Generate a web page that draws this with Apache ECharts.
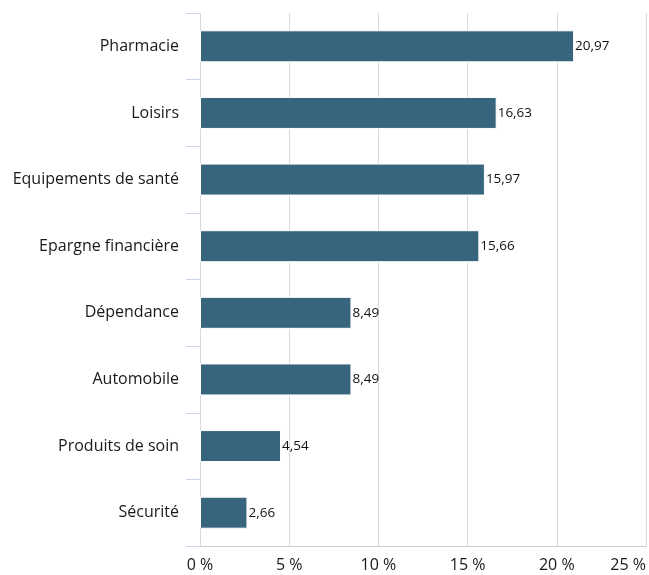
<!DOCTYPE html>
<html>
<head>
<meta charset="utf-8">
<script src="https://cdn.jsdelivr.net/npm/echarts@6/dist/echarts.min.js"></script>
<style>
  html, body { margin: 0; padding: 0; background: #fff; }
  #chart { width: 649px; height: 575px; }
</style>
</head>
<body>
<div id="chart"></div>
<script>
// catégories, de haut en bas
const categories = ['Pharmacie', 'Loisirs', 'Equipements de santé', 'Epargne financière',
  'Dépendance', 'Automobile', 'Produits de soin', 'Sécurité']
const values = [20.97, 16.63, 15.97, 15.66, 8.49, 8.49, 4.54, 2.66]
const xTicks = [0, 5, 10, 15, 20, 25]

const chart = echarts.init(document.getElementById('chart'))
const font = '"Open Sans", "Noto Sans", sans-serif'

const option = {
  animation: false,
  grid: { left: 200, right: 1, top: 13, bottom: 29, containLabel: false },
  xAxis: {
    type: 'value',
    min: xTicks[0],
    max: xTicks[xTicks.length - 1],
    interval: 5,
    axisLine: { show: true, lineStyle: { color: '#cccccc', width: 1 } },
    axisTick: { show: false },
    splitLine: { show: true, lineStyle: { color: '#d9d9d9', width: 1 } },
    axisLabel: {
      margin: 11,
      fontSize: 16,
      fontFamily: font,
      color: '#1a1a1a',
      alignMaxLabel: 'right',
      formatter: v => v + ' %'
    }
  },
  yAxis: {
    type: 'category',
    data: categories,
    inverse: true,
    axisLine: { show: false },
    axisTick: { show: true, length: 14, lineStyle: { color: '#ccd6eb', width: 1 } },
    axisLabel: { margin: 21, fontSize: 16, fontFamily: font, color: '#1a1a1a' }
  },
  series: [{
    type: 'bar',
    data: values,
    barWidth: 32,
    itemStyle: { color: '#37657d', borderColor: '#ffffff', borderWidth: 1 },
    label: {
      show: true,
      position: 'right',
      distance: 1,
      fontSize: 13.5,
      fontFamily: font,
      color: '#111',
      formatter: p => p.value.toFixed(2).replace('.', ',')
    }
  }]
}

chart.setOption(option)
</script>
</body>
</html>
